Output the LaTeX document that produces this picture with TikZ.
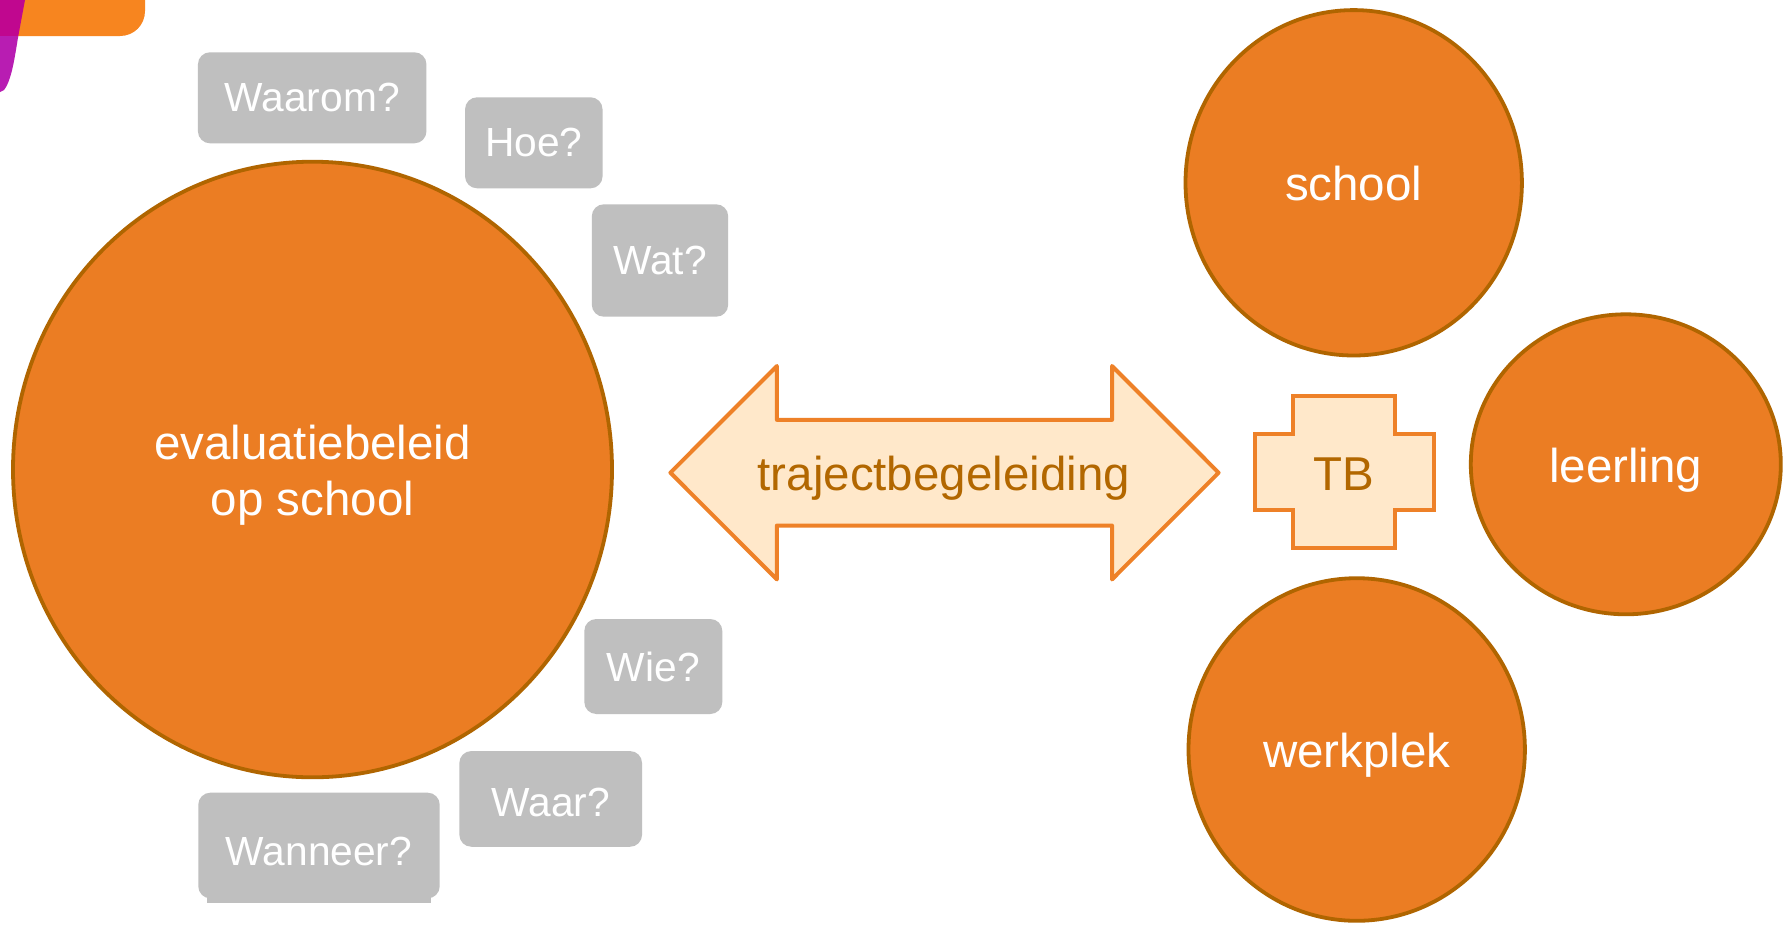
\documentclass[tikz,border=0pt]{standalone}
\usepackage{fontspec}
\setmainfont{Liberation Sans}
\usetikzlibrary{shapes.geometric}
\definecolor{circfill}{HTML}{EB7D23}
\definecolor{circline}{HTML}{B06500}
\definecolor{arrline}{HTML}{EE8128}
\definecolor{arrfill}{HTML}{FFE8CA}
\definecolor{arrtext}{HTML}{B26700}
\definecolor{qgray}{HTML}{BFBFBF}
\definecolor{logoorange}{HTML}{F7851F}
\definecolor{logomagA}{HTML}{C0078F}
\definecolor{logomagB}{HTML}{B81DB2}
\begin{document}
\begin{tikzpicture}[x=1pt,y=-1pt,
  circ/.style={ellipse, draw=circline, fill=circfill, line width=3.8pt, inner sep=0pt,
    text=white, font=\fontsize{47.5}{56.7}\selectfont, text height=36pt, text depth=0pt},
  bigtxt/.style={text=white, font=\fontsize{47.5}{56.7}\selectfont, inner sep=0pt},
  qbox/.style={rectangle, rounded corners=12pt, fill=qgray, text=white, inner sep=0pt,
    font=\fontsize{40.7}{48}\selectfont},
  lightshape/.style={fill=arrfill, draw=arrline, line width=4pt, line join=round},
  lighttxt/.style={text=arrtext, font=\fontsize{47.5}{56.7}\selectfont, inner sep=0pt,
    text height=36pt, text depth=0pt}
]
\useasboundingbox (0,0) rectangle (1790,924);
\fill[white] (0,0) rectangle (1790,924);

% logo corner
\fill[logoorange] (18,0) -- (145,0) -- (145,11) .. controls (145,25) and (134,36) .. (120,36) -- (18,36) -- cycle;
\fill[logomagA] (0,0) -- (25,0) -- (18.3,36) -- (0,36) -- cycle;
\fill[logomagB] (0,36) -- (18.3,36) .. controls (15,55) and (12,80) .. (4,90) -- (0,92) -- cycle;

% big circle
\node[circ, minimum width=599pt, minimum height=615.6pt] (eval) at (312.5,469.5) {};
\node[bigtxt, anchor=base] (evalA) at (312.5,459) {evaluatiebeleid};
\node[bigtxt, anchor=base] (evalB) at (312.5,515.7) {op school};

% question boxes
\node[qbox, minimum width=228.5pt, minimum height=91pt] (waarom) at (312.2,97.8) {Waarom?};
\node[qbox, minimum width=137.5pt, minimum height=91pt] (hoe) at (533.8,142.8) {Hoe?};
\node[qbox, minimum width=136.4pt, minimum height=112.4pt] (wat) at (660,260.5) {Wat?};
\node[qbox, minimum width=138pt, minimum height=95pt] (wie) at (653.3,666.5) {Wie?};
\node[qbox, minimum width=182.7pt, minimum height=95.7pt, text height=35.6pt, text depth=0pt] (waar) at (550.7,798.9) {Waar?};
\fill[qgray] (206.7,880) rectangle (430.7,903.3);
\node[qbox, minimum width=241.4pt, minimum height=105.6pt, text height=39pt, text depth=0pt] (wanneer) at (319,845.5) {Wanneer?};

% double arrow
\path[lightshape] (670.4,472.7) -- (776.9,366) -- (776.9,419.9) -- (1112,419.9) -- (1112,366)
  -- (1218.6,472.7) -- (1112,579.4) -- (1112,525.5) -- (776.9,525.5) -- (776.9,579.4) -- cycle;
\node[lighttxt] (traj) at (943.8,472.7) {trajectbegeleiding};

% cross TB
\path[lightshape, line join=miter] (1293,396) -- (1395.3,396) -- (1395.3,433.7) -- (1433.7,433.7)
  -- (1433.7,509.7) -- (1395.3,509.7) -- (1395.3,548) -- (1293,548) -- (1293,509.7)
  -- (1254.7,509.7) -- (1254.7,433.7) -- (1293,433.7) -- cycle;
\node[lighttxt] (tb) at (1344.2,472) {TB};

% right circles
\node[circ, minimum width=336.4pt, minimum height=345.4pt] (school) at (1353.7,182.8) {school};
\node[circ, minimum width=310pt, minimum height=300pt] (leerling) at (1625.8,464.3) {leerling};
\node[circ, minimum width=336.4pt, minimum height=342.6pt] (werkplek) at (1356.7,749.5) {werkplek};
\end{tikzpicture}
\end{document}
